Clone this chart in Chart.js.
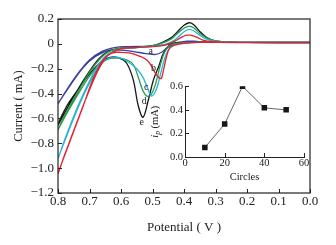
<!DOCTYPE html>
<html>
<head>
<meta charset="utf-8">
<script src="https://cdn.jsdelivr.net/npm/chart.js@4.4.0/dist/chart.umd.min.js"></script>
<style>
  body { margin: 0; background: #fff; }
  #wrap { position: relative; width: 336px; height: 245px; }
  #insetChart { position: absolute; left: 140px; top: 78px; }
</style>
</head>
<body>
<div id="wrap">
  <canvas id="cvChart" width="336" height="245"></canvas>
  <canvas id="insetChart" width="176" height="110"></canvas>
</div>
<script>
// CV curves: cathodic sweep 0 -> 0.8 V, then anodic sweep back 0.8 -> 0 V
const potA = [0, 0.2, 0.35, 0.42, 0.45, 0.47, 0.49, 0.52, 0.56, 0.6, 0.64, 0.68, 0.72, 0.76, 0.8,
              0.78, 0.74, 0.7, 0.66, 0.62, 0.58, 0.5, 0.45, 0.42, 0.39, 0.36, 0.32, 0.2, 0];
const curA = [0.012, 0.012, 0.012, 0.008, -0.025, -0.065, -0.085, -0.078, -0.062, -0.05, -0.055, -0.1, -0.19, -0.33, -0.48,
              -0.4, -0.25, -0.13, -0.06, -0.03, -0.022, -0.018, -0.005, 0.012, 0.022, 0.02, 0.014, 0.01, 0.01];

const potB = [0, 0.2, 0.35, 0.4, 0.43, 0.445, 0.455, 0.465, 0.472, 0.48, 0.49, 0.503, 0.518, 0.54, 0.57, 0.6, 0.63, 0.66, 0.69, 0.72, 0.76, 0.8,
              0.78, 0.74, 0.7, 0.67, 0.64, 0.6, 0.55, 0.5, 0.46, 0.43, 0.41, 0.395, 0.38, 0.36, 0.34, 0.31, 0.2, 0];
const curB = [0.012, 0.012, 0.012, 0.005, -0.01, -0.03, -0.1, -0.21, -0.28, -0.27, -0.24, -0.18, -0.13, -0.1, -0.075, -0.068, -0.075, -0.14, -0.29, -0.5, -0.77, -1.04,
              -0.9, -0.63, -0.37, -0.2, -0.09, -0.04, -0.03, -0.022, -0.01, 0.02, 0.05, 0.068, 0.07, 0.055, 0.03, 0.018, 0.012, 0.01];

const potC = [0, 0.2, 0.35, 0.4, 0.43, 0.45, 0.465, 0.48, 0.49, 0.503, 0.515, 0.53, 0.55, 0.575, 0.6, 0.63, 0.66, 0.69, 0.72, 0.76, 0.8,
              0.78, 0.74, 0.7, 0.67, 0.64, 0.6, 0.55, 0.5, 0.46, 0.43, 0.41, 0.395, 0.383, 0.37, 0.35, 0.33, 0.3, 0.2, 0];
const curC = [0.012, 0.012, 0.012, 0.008, -0.01, -0.05, -0.15, -0.3, -0.38, -0.42, -0.36, -0.27, -0.2, -0.15, -0.115, -0.11, -0.15, -0.27, -0.42, -0.66, -0.92,
              -0.78, -0.52, -0.3, -0.16, -0.08, -0.04, -0.03, -0.02, -0.005, 0.03, 0.075, 0.105, 0.117, 0.105, 0.07, 0.04, 0.02, 0.012, 0.01];

const potD = [0, 0.2, 0.35, 0.4, 0.44, 0.46, 0.475, 0.49, 0.505, 0.518, 0.53, 0.545, 0.56, 0.58, 0.61, 0.64, 0.67, 0.7, 0.74, 0.77, 0.8,
              0.78, 0.74, 0.7, 0.67, 0.64, 0.6, 0.55, 0.5, 0.47, 0.44, 0.42, 0.4, 0.385, 0.37, 0.35, 0.33, 0.31, 0.28, 0.2, 0];
const curD = [0.012, 0.012, 0.012, 0.01, -0.005, -0.06, -0.17, -0.32, -0.41, -0.42, -0.38, -0.27, -0.17, -0.13, -0.115, -0.12, -0.17, -0.26, -0.42, -0.55, -0.69,
              -0.58, -0.4, -0.23, -0.13, -0.065, -0.035, -0.028, -0.015, 0.005, 0.04, 0.085, 0.125, 0.14, 0.13, 0.085, 0.05, 0.03, 0.018, 0.012, 0.01];

const potE = [0, 0.2, 0.35, 0.4, 0.44, 0.465, 0.48, 0.497, 0.513, 0.53, 0.545, 0.561, 0.582, 0.605, 0.635, 0.665, 0.698, 0.74, 0.772, 0.8,
              0.78, 0.74, 0.7, 0.67, 0.64, 0.6, 0.55, 0.5, 0.47, 0.44, 0.42, 0.4, 0.383, 0.37, 0.35, 0.33, 0.31, 0.28, 0.2, 0];
const curE = [0.012, 0.012, 0.012, 0.01, 0.0, -0.075, -0.18, -0.29, -0.45, -0.59, -0.5, -0.29, -0.156, -0.115, -0.108, -0.15, -0.237, -0.38, -0.5, -0.65,
              -0.56, -0.38, -0.22, -0.12, -0.06, -0.035, -0.028, -0.015, 0.01, 0.05, 0.1, 0.15, 0.17, 0.155, 0.1, 0.055, 0.03, 0.018, 0.012, 0.01];

// curve letters and where they sit (V, mA)
const curveNames = ['a', 'b', 'c', 'd', 'e'];
const nameV = [0.506, 0.497, 0.52, 0.526, 0.534];
const nameI = [-0.063, -0.2, -0.35, -0.465, -0.63];

// inset: peak current vs circles
const circles = [10, 20, 29, 40, 51];
const peakCur = [0.08, 0.28, 0.6, 0.417, 0.4];

const serif = '"Liberation Serif", "Times New Roman", serif';

function pts(xs, ys) {
    return xs.map((x, i) => ({ x: x, y: ys[i] }));
}

function fmtCur(v) {
    if (Math.abs(v) < 1e-9) return '0';
    return (v < 0 ? '\u2212' : '') + Math.abs(v).toFixed(1);
}

// inner tick marks on bottom and left axes
const innerTicks = {
    id: 'innerTicks',
    afterDraw(chart, args, opts) {
        const ctx = chart.ctx;
        const { x, y } = chart.scales;
        const len = opts.len || 4;
        ctx.save();
        ctx.strokeStyle = '#222';
        ctx.lineWidth = 1;
        ctx.beginPath();
        x.ticks.forEach(t => {
            const px = Math.round(x.getPixelForValue(t.value)) + 0.5;
            ctx.moveTo(px, y.bottom);
            ctx.lineTo(px, y.bottom - len);
        });
        y.ticks.forEach(t => {
            const py = Math.round(y.getPixelForValue(t.value)) + 0.5;
            ctx.moveTo(x.left, py);
            ctx.lineTo(x.left + len, py);
        });
        ctx.stroke();
        if (opts.frame) {
            const a = chart.chartArea;
            ctx.lineWidth = 1.2;
            ctx.strokeRect(a.left, a.top, a.right - a.left, a.bottom - a.top);
        }
        ctx.restore();
    }
};

const curveLetters = {
    id: 'curveLetters',
    afterDatasetsDraw(chart) {
        const ctx = chart.ctx;
        const { x, y } = chart.scales;
        ctx.save();
        ctx.font = '10px ' + serif;
        ctx.fillStyle = '#222';
        ctx.textAlign = 'center';
        ctx.textBaseline = 'middle';
        curveNames.forEach((n, i) => {
            ctx.fillText(n, x.getPixelForValue(nameV[i]), y.getPixelForValue(nameI[i]));
        });
        ctx.restore();
    }
};

const noGrid = { display: false, drawTicks: false, tickLength: 0 };
const curveStyle = { showLine: true, pointRadius: 0, borderWidth: 1.3, tension: 0.35, fill: false };

new Chart(document.getElementById('cvChart').getContext('2d'), {
    type: 'scatter',
    data: {
        datasets: [
            { ...curveStyle, label: 'b', data: pts(potB, curB), borderColor: '#e0232c' },
            { ...curveStyle, label: 'c', data: pts(potC, curC), borderColor: '#27b4d8' },
            { ...curveStyle, label: 'd', data: pts(potD, curD), borderColor: '#2b9a4c' },
            { ...curveStyle, label: 'e', data: pts(potE, curE), borderColor: '#151515' },
            { ...curveStyle, label: 'a', data: pts(potA, curA), borderColor: '#3a3f9e' }
        ]
    },
    options: {
        responsive: false,
        animation: false,
        layout: { padding: { left: 7, top: 19, right: 26, bottom: 6 } },
        plugins: {
            legend: { display: false },
            tooltip: { enabled: false },
            innerTicks: { len: 4, frame: true }
        },
        scales: {
            x: {
                type: 'linear',
                reverse: true,
                min: 0,
                max: 0.8,
                afterFit: s => { s.height = 46; },
                grid: noGrid,
                border: { display: false },
                ticks: { stepSize: 0.1, padding: 1, color: '#222', font: { family: serif, size: 13 },
                         callback: v => v.toFixed(1) },
                title: { display: true, text: 'Potential ( V )', color: '#222',
                         font: { family: serif, size: 13 }, padding: { top: 4, bottom: 4 } }
            },
            y: {
                min: -1.2,
                max: 0.2,
                afterFit: s => { s.width = 51; },
                grid: noGrid,
                border: { display: false },
                ticks: { stepSize: 0.2, padding: 4, color: '#222', font: { family: serif, size: 13 },
                         callback: v => fmtCur(v) },
                title: { display: true, text: 'Current ( mA)', color: '#222',
                         font: { family: serif, size: 12.5 }, padding: { top: 4, bottom: 4 } }
            }
        }
    },
    plugins: [innerTicks, curveLetters]
});

// rotated "i_p (mA)" label for the inset
const insetYTitle = {
    id: 'insetYTitle',
    afterDraw(chart) {
        const ctx = chart.ctx;
        const a = chart.chartArea;
        const big = '10.5px ' + serif;
        const bigI = 'italic 10.5px ' + serif;
        const small = 'italic 7.5px ' + serif;
        ctx.save();
        ctx.fillStyle = '#222';
        ctx.textBaseline = 'middle';
        ctx.translate(15, (a.top + a.bottom) / 2);
        ctx.rotate(-Math.PI / 2);
        ctx.font = bigI; const w1 = ctx.measureText('i').width;
        ctx.font = small; const w2 = ctx.measureText('p').width;
        ctx.font = big; const w3 = ctx.measureText(' (mA)').width;
        let px = -(w1 + w2 + w3) / 2;
        ctx.font = bigI; ctx.fillText('i', px, 0); px += w1;
        ctx.font = small; ctx.fillText('p', px, 3); px += w2;
        ctx.font = big; ctx.fillText(' (mA)', px, 0);
        ctx.restore();
    }
};

new Chart(document.getElementById('insetChart').getContext('2d'), {
    type: 'scatter',
    data: {
        datasets: [{
            data: pts(circles, peakCur),
            showLine: true,
            borderColor: '#666',
            borderWidth: 1,
            pointStyle: 'rect',
            pointRadius: 3.9,
            pointBackgroundColor: '#161616',
            pointBorderWidth: 0
        }]
    },
    options: {
        responsive: false,
        animation: false,
        layout: { padding: { left: 0, top: 8, right: 12, bottom: 0 } },
        plugins: {
            legend: { display: false },
            tooltip: { enabled: false },
            innerTicks: { len: 4, frame: false }
        },
        scales: {
            x: {
                min: 0,
                max: 60,
                afterFit: s => { s.height = 31; },
                grid: noGrid,
                border: { display: true, color: '#222', width: 1 },
                ticks: { stepSize: 20, padding: 0, color: '#222', font: { family: serif, size: 10.5 } },
                title: { display: true, text: 'Circles', color: '#222',
                         font: { family: serif, size: 10.5 }, padding: { top: 2, bottom: 4 } }
            },
            y: {
                min: 0,
                max: 0.6,
                afterFit: s => { s.width = 45; },
                grid: noGrid,
                border: { display: true, color: '#222', width: 1 },
                ticks: { stepSize: 0.2, padding: 2, color: '#222', font: { family: serif, size: 10.5 },
                         callback: v => v.toFixed(1) }
            }
        }
    },
    plugins: [innerTicks, insetYTitle]
});
</script>
</body>
</html>
